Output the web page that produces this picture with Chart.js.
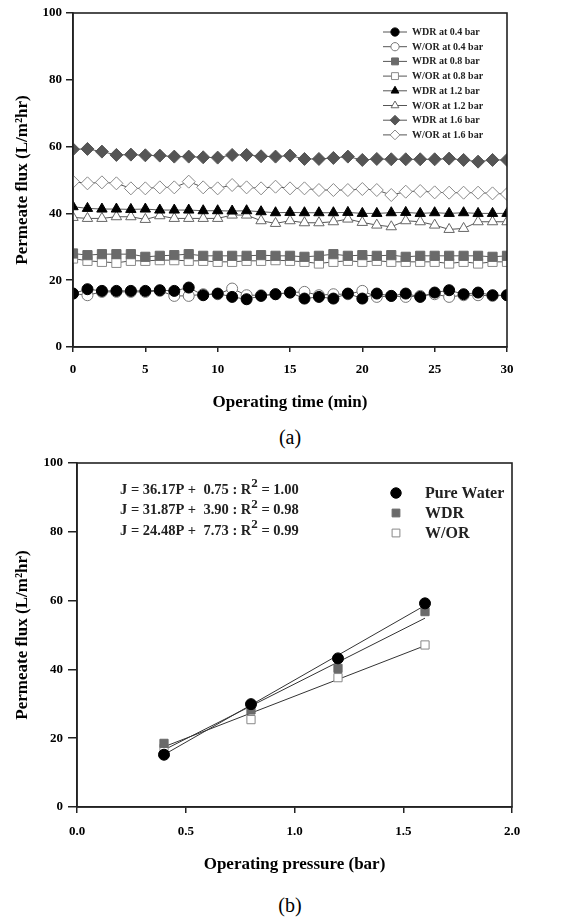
<!DOCTYPE html>
<html>
<head>
<meta charset="utf-8">
<script src="https://cdn.jsdelivr.net/npm/chart.js@4.4.1/dist/chart.umd.min.js"></script>
<style>
  body { margin: 0; background: #fff; width: 575px; height: 919px; position: relative; overflow: hidden; }
  #wrapA { position: absolute; left: 0; top: 0; width: 575px; height: 420px; }
  #wrapB { position: absolute; left: 0; top: 450px; width: 575px; height: 430px; }
  .cap { position: absolute; left: 0; width: 580px; text-align: center; font-family: "Liberation Serif", serif; font-size: 20px; line-height: 24px; color: #000; }
</style>
</head>
<body>
<div id="wrapA"><canvas id="chartA"></canvas></div>
<div class="cap" style="top:425px">(a)</div>
<div id="wrapB"><canvas id="chartB"></canvas></div>
<div class="cap" style="top:893px">(b)</div>
<script>
// (a) flux vs operating time
const times = [0, 1, 2, 3, 4, 5, 6, 7, 8, 9, 10, 11, 12, 13, 14, 15, 16, 17, 18, 19, 20, 21, 22, 23, 24, 25, 26, 27, 28, 29, 30];
const wdr04 = [16.0, 17.3, 16.8, 16.8, 16.8, 16.8, 17.0, 16.8, 17.8, 15.5, 16.0, 15.0, 14.3, 15.3, 15.8, 16.3, 14.5, 15.0, 14.5, 16.0, 14.5, 16.0, 15.3, 16.0, 15.0, 16.3, 17.0, 15.8, 16.3, 15.5, 15.5];
const wor04 = [16.0, 15.5, 16.5, 16.5, 16.5, 16.5, 16.8, 15.3, 15.3, 15.8, 15.8, 17.5, 15.5, 15.5, 15.8, 16.3, 16.5, 15.5, 15.8, 15.8, 16.8, 15.0, 15.3, 15.0, 15.3, 15.8, 15.0, 15.5, 15.5, 15.3, 15.5];
const wdr08 = [28.0, 27.5, 27.8, 27.8, 27.8, 27.0, 27.3, 27.5, 27.8, 27.3, 27.3, 27.3, 27.3, 27.5, 27.3, 27.3, 27.0, 27.3, 27.8, 27.3, 27.5, 27.3, 27.5, 27.0, 27.3, 27.3, 27.3, 27.3, 27.3, 27.0, 27.3];
const wor08 = [26.5, 25.8, 25.5, 25.2, 25.8, 25.8, 26.0, 26.0, 25.8, 25.8, 25.5, 25.5, 25.8, 25.8, 26.0, 25.8, 25.5, 25.0, 25.5, 25.8, 25.5, 25.8, 25.5, 25.5, 25.5, 25.5, 25.0, 25.5, 25.0, 25.5, 25.5];
const wdr12 = [42.0, 41.5, 41.3, 41.3, 41.2, 41.3, 41.0, 41.0, 41.0, 40.8, 40.8, 40.7, 40.8, 40.5, 40.2, 40.3, 40.2, 40.2, 40.2, 40.3, 40.0, 40.0, 40.2, 40.3, 40.0, 40.2, 40.0, 40.2, 40.0, 40.0, 40.0];
const wor12 = [38.8, 38.5, 38.5, 39.0, 39.0, 38.2, 39.3, 38.5, 38.5, 38.5, 38.5, 39.5, 39.5, 37.8, 37.0, 37.8, 37.2, 37.2, 37.5, 38.3, 37.3, 36.5, 36.0, 37.8, 37.5, 36.5, 35.2, 35.5, 37.5, 37.5, 37.5];
const wdr16 = [59.2, 59.3, 58.5, 57.5, 57.6, 57.4, 57.3, 57.0, 57.0, 56.8, 56.7, 57.5, 57.5, 57.1, 57.0, 57.3, 56.3, 56.3, 56.6, 57.0, 56.0, 56.3, 56.2, 56.2, 56.2, 56.2, 56.4, 56.0, 55.5, 56.0, 56.0];
const wor16 = [49.5, 49.0, 49.3, 49.0, 47.5, 47.5, 47.8, 47.8, 49.5, 47.8, 47.5, 48.5, 47.8, 47.5, 48.0, 47.5, 47.5, 47.0, 47.0, 47.0, 47.3, 47.0, 45.5, 46.5, 46.7, 46.3, 46.2, 46.2, 46.2, 46.0, 45.8];
const seriesNamesA = ['WDR at 0.4 bar', 'W/OR at 0.4 bar', 'WDR at 0.8 bar', 'W/OR at 0.8 bar',
  'WDR at 1.2 bar', 'W/OR at 1.2 bar', 'WDR at 1.6 bar', 'W/OR at 1.6 bar'];
const timeTicks = [0, 5, 10, 15, 20, 25, 30];

// (b) flux vs operating pressure
const pressures = [0.4, 0.8, 1.2, 1.6];
const pureWater = [15.2, 29.9, 43.2, 59.2];
const wdrP = [18.5, 28.2, 40.3, 56.8];
const worP = [17.0, 25.4, 37.6, 47.1];
const fitEnds = [0.4, 1.6];
const fitPure = [15.2, 58.6];
const fitWdr = [16.6, 54.9];
const fitWor = [17.5, 46.9];
const seriesNamesB = ['Pure Water', 'WDR', 'W/OR'];
const eqText = ['J = 36.17P +  0.75 : R', 'J = 31.87P +  3.90 : R', 'J = 24.48P +  7.73 : R'];
const eqR2 = [' = 1.00', ' = 0.98', ' = 0.99'];
const fluxTicks = [0, 20, 40, 60, 80, 100];
const pressureTicks = [0.0, 0.5, 1.0, 1.5, 2.0];

const SERIF = '"Liberation Serif", "Times New Roman", serif';
Chart.defaults.font.family = SERIF;
Chart.defaults.color = '#000';

function pts(xs, ys) {
    return xs.map((x, i) => ({ x: x, y: ys[i] }));
}

// marker styles: [pointStyle, radius, fill, stroke]
const stylesA = [
    ['circle', 5.5, '#000', '#000'],
    ['circle', 5.5, '#fff', '#777'],
    ['rect', 6.5, '#6a6a6a', '#6a6a6a'],
    ['rect', 6.5, '#fff', '#8a8a8a'],
    ['triangle', 6, '#000', '#000'],
    ['triangle', 6, '#fff', '#666'],
    ['rectRot', 6.5, '#555', '#555'],
    ['rectRot', 6.5, '#fff', '#888']
];
const valuesA = [wdr04, wor04, wdr08, wor08, wdr12, wor12, wdr16, wor16];

const frame = {
    id: 'frame',
    afterDraw(chart) {
        const a = chart.chartArea;
        const ctx = chart.ctx;
        ctx.save();
        ctx.strokeStyle = '#222';
        ctx.lineWidth = 1.6;
        ctx.strokeRect(a.left, a.top, a.right - a.left, a.bottom - a.top);
        ctx.restore();
    }
};

const legendA = {
    id: 'legendA',
    afterDraw(chart) {
        const ctx = chart.ctx;
        const right = chart.chartArea.right;
        ctx.save();
        chart.data.datasets.forEach((ds, i) => {
            const y = chart.chartArea.top + 19 + i * 14.7;
            ctx.strokeStyle = '#555';
            ctx.lineWidth = 1;
            ctx.beginPath();
            ctx.moveTo(right - 124, y);
            ctx.lineTo(right - 100, y);
            ctx.stroke();
            ctx.fillStyle = ds.pointBackgroundColor;
            ctx.strokeStyle = ds.pointBorderColor;
            Chart.helpers.drawPoint(ctx, { pointStyle: ds.pointStyle, radius: ds.pointRadius * 0.75, borderWidth: 1 }, right - 112, y);
            ctx.fillStyle = '#222';
            ctx.font = 'bold 10px ' + SERIF;
            ctx.textBaseline = 'middle';
            ctx.textAlign = 'left';
            ctx.fillText(ds.label, right - 95, y + 0.5);
        });
        ctx.restore();
    }
};

function axisFont(size) {
    return { family: SERIF, size: size, weight: 'bold' };
}

new Chart(document.getElementById('chartA'), {
    type: 'line',
    data: {
        datasets: valuesA.map((vals, i) => ({
            label: seriesNamesA[i],
            data: pts(times, vals),
            pointStyle: stylesA[i][0],
            pointRadius: stylesA[i][1],
            pointBackgroundColor: stylesA[i][2],
            pointBorderColor: stylesA[i][3],
            pointBorderWidth: 1,
            borderColor: '#555',
            borderWidth: 1,
            tension: 0
        }))
    },
    options: {
        responsive: true,
        maintainAspectRatio: false,
        animation: false,
        layout: { padding: { left: 0, right: 68, top: 13, bottom: 0 } },
        plugins: { legend: { display: false }, tooltip: { enabled: false } },
        scales: {
            x: {
                type: 'linear',
                min: 0, max: 30,
                afterBuildTicks: s => { s.ticks = timeTicks.map(v => ({ value: v })); },
                afterFit: s => { s.height = 73; },
                grid: { drawOnChartArea: false, tickLength: 5, color: '#222', lineWidth: 1.5 },
                border: { color: '#222', width: 1.6 },
                ticks: { font: axisFont(13), padding: 10, maxRotation: 0 },
                title: { display: true, text: 'Operating time (min)', font: axisFont(17), padding: { top: 0, bottom: 7 } }
            },
            y: {
                min: 0, max: 100,
                afterBuildTicks: s => { s.ticks = fluxTicks.map(v => ({ value: v })); },
                afterFit: s => { s.width = 73; },
                grid: { drawOnChartArea: false, tickLength: 7, color: '#222', lineWidth: 1.5 },
                border: { color: '#222', width: 1.6 },
                ticks: { font: axisFont(13), padding: 4 },
                title: { display: true, text: 'Permeate flux (L/m²hr)', font: axisFont(17), padding: { top: 12, bottom: 0 } }
            }
        }
    },
    plugins: [frame, legendA]
});

// (b)
const stylesB = [
    ['circle', 5.5, '#000', '#000'],
    ['rect', 5.8, '#6a6a6a', '#6a6a6a'],
    ['rect', 5.8, '#fff', '#888']
];
const valuesB = [pureWater, wdrP, worP];
const fitsB = [fitPure, fitWdr, fitWor];

const legendB = {
    id: 'legendB',
    afterDraw(chart) {
        const ctx = chart.ctx;
        const left = chart.chartArea.left;
        const top = chart.chartArea.top;
        ctx.save();
        for (let i = 0; i < seriesNamesB.length; i++) {
            const ds = chart.data.datasets[i];
            const y = top + 30 + i * 20;
            ctx.fillStyle = ds.pointBackgroundColor;
            ctx.strokeStyle = ds.pointBorderColor;
            Chart.helpers.drawPoint(ctx, { pointStyle: ds.pointStyle, radius: ds.pointRadius * 0.95, borderWidth: 1 }, left + 319, y);
            ctx.fillStyle = '#222';
            ctx.font = 'bold 16px ' + SERIF;
            ctx.textBaseline = 'middle';
            ctx.textAlign = 'left';
            ctx.fillText(ds.label, left + 348, y + 1);

            // regression equations
            const ey = top + 27 + i * 20.5;
            ctx.font = 'bold 14.5px ' + SERIF;
            let x = left + 43;
            ctx.fillText(eqText[i], x, ey);
            x += ctx.measureText(eqText[i]).width;
            ctx.font = 'bold 13px ' + SERIF;
            ctx.fillText('2', x, ey - 6);
            x += ctx.measureText('2').width;
            ctx.font = 'bold 14.5px ' + SERIF;
            ctx.fillText(eqR2[i], x, ey);
        }
        ctx.restore();
    }
};

const datasetsB = valuesB.map((vals, i) => ({
    label: seriesNamesB[i],
    data: pts(pressures, vals),
    showLine: false,
    pointStyle: stylesB[i][0],
    pointRadius: stylesB[i][1],
    pointBackgroundColor: stylesB[i][2],
    pointBorderColor: stylesB[i][3],
    pointBorderWidth: 1
})).concat(fitsB.map((vals, i) => ({
    label: seriesNamesB[i] + ' fit',
    data: pts(fitEnds, vals),
    showLine: true,
    pointRadius: 0,
    borderColor: '#333',
    borderWidth: 1,
    tension: 0
})));

new Chart(document.getElementById('chartB'), {
    type: 'line',
    data: { datasets: datasetsB },
    options: {
        responsive: true,
        maintainAspectRatio: false,
        animation: false,
        layout: { padding: { left: 0, right: 63, top: 13, bottom: 0 } },
        plugins: { legend: { display: false }, tooltip: { enabled: false } },
        scales: {
            x: {
                type: 'linear',
                min: 0, max: 2,
                afterBuildTicks: s => { s.ticks = pressureTicks.map(v => ({ value: v })); },
                afterFit: s => { s.height = 73; },
                grid: { drawOnChartArea: false, tickLength: 6, color: '#222', lineWidth: 1.5 },
                border: { color: '#222', width: 1.6 },
                ticks: { font: axisFont(13), padding: 11, maxRotation: 0, callback: v => v.toFixed(1) },
                title: { display: true, text: 'Operating pressure (bar)', font: axisFont(17), padding: { top: 0, bottom: 5 } }
            },
            y: {
                min: 0, max: 100,
                afterBuildTicks: s => { s.ticks = fluxTicks.map(v => ({ value: v })); },
                afterFit: s => { s.width = 77; },
                grid: { drawOnChartArea: false, tickLength: 9, color: '#222', lineWidth: 1.5 },
                border: { color: '#222', width: 1.6 },
                ticks: { font: axisFont(13), padding: 5 },
                title: { display: true, text: 'Permeate flux (L/m²hr)', font: axisFont(17), padding: { top: 12, bottom: 0 } }
            }
        }
    },
    plugins: [frame, legendB]
});
</script>
</body>
</html>
